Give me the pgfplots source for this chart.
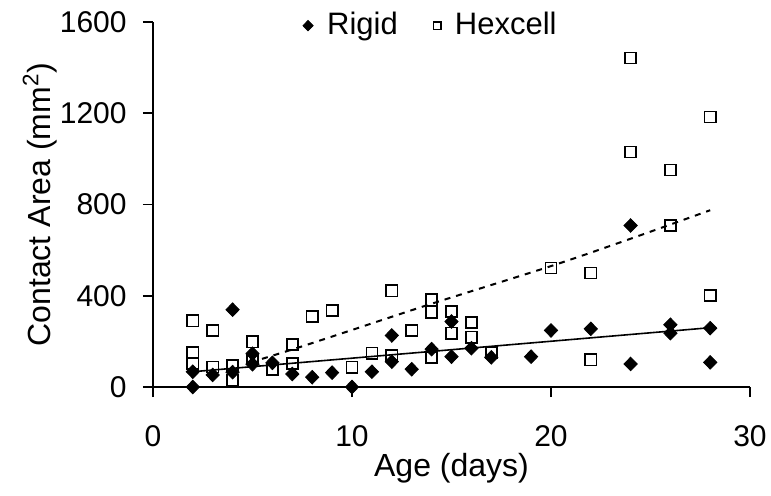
\documentclass[border=0pt]{standalone}
\usepackage{fontspec}
\setmainfont{Liberation Sans}
\usepackage{pgfplots}
\pgfplotsset{compat=1.18}
\begin{document}
\fontsize{15}{18}\selectfont
\begin{tikzpicture}
\begin{axis}[
  scale only axis, width=298.5pt, height=182.5pt,
  xmin=0, xmax=30, ymin=0, ymax=1600,
  axis x line*=bottom, axis y line*=left,
  xtick={0,10,20,30}, ytick={0,400,800,1200,1600},
  tick align=outside, major tick length=5pt,
  every tick/.style={black, line width=0.8pt},
  axis line style={line width=0.8pt},
  /pgf/number format/assume math mode=true,
  /pgf/number format/1000 sep={},
  ticklabel style={font=\fontsize{15}{18}\selectfont},
  yticklabel style={xshift=-3pt},
  xticklabel style={yshift=-9pt},
  xlabel={Age (days)}, ylabel={Contact Area (mm\textsuperscript{2})},
  label style={font=\fontsize{16}{19}\selectfont},
  xlabel shift=-7pt,
  ylabel shift=-9pt,
  legend style={draw=none, fill=none, at={(0.467,0.99)}, anchor=center,
    legend columns=2, font=\fontsize{15.5}{18}\selectfont,
    /tikz/every odd column/.append style={column sep=5pt},
    /tikz/every even column/.append style={column sep=16pt}},
  clip=false,
]
\addplot[only marks, mark=diamond*, mark size=3.4pt, black,
  mark options={xscale=1.3},
  legend image post style={mark size=2.6pt}] table {
x y
2 0
2 67
3 53
4 339
4 65
5 146
5 100
6 106
7 57
8 43
9 63
10 0
11 67
12 226
12 111
13 78
14 166
15 287
15 133
16 170
17 130
19 133
20 248
22 255
24 708
24 101
26 273
26 236
28 258
28 108
};
\addlegendentry{Rigid}
\addplot[only marks, mark=square, mark size=2.8pt, black, line width=0.8pt,
  legend image post style={mark size=1.8pt, line width=0.6pt}] table {
x y
2 290
2 152
2 103
3 248
3 88
4 93
4 30
5 198
5 123
6 77
7 187
7 103
8 309
9 335
10 87
11 148
12 422
12 138
13 248
14 382
14 328
14 130
15 331
15 236
16 283
16 218
17 152
20 522
22 500
22 119
24 1442
24 1030
26 951
26 708
28 1184
28 401
};
\addlegendentry{Hexcell}
\addplot[black, line width=0.8pt, forget plot] coordinates {(2,67) (28,260)};
\addplot[black, line width=1pt, dash pattern=on 3pt off 3pt, smooth, forget plot] coordinates {
(4.9,108) (7.2,170) (10,250) (14,365) (20,530) (24,650) (28,775)};
\coordinate (O) at (axis cs:0,0);
\end{axis}
\pgfresetboundingbox
\path (O) ++(-76.5pt,-54pt) rectangle ++(385.5pt,247.5pt);
\end{tikzpicture}
\end{document}
